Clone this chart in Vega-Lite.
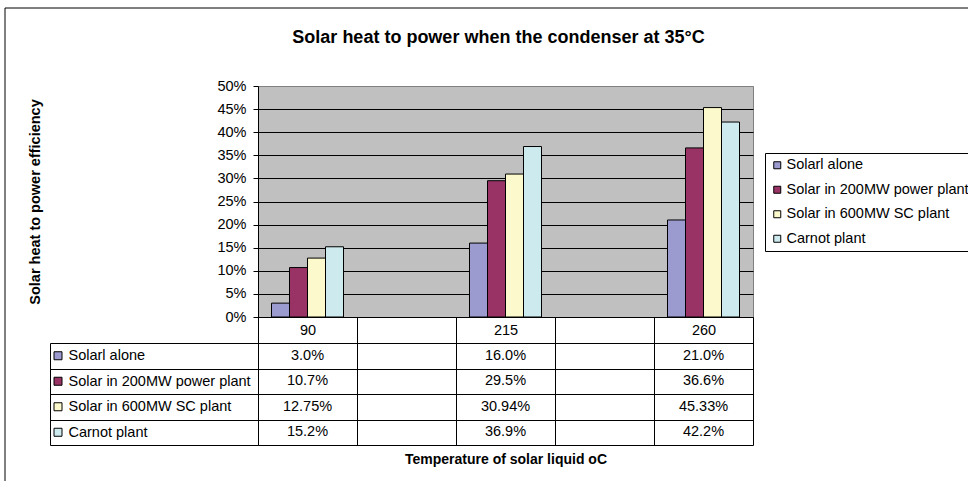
{
  "$schema": "https://vega.github.io/schema/vega-lite/v6.json",
  "width": 495,
  "height": 231,
  "autosize": {"type": "none"},
  "padding": {"left": 258, "top": 86, "right": 215, "bottom": 164},
  "background": "white",
  "title": {
    "text": "Solar heat to power when the condenser at 35°C",
    "font": "Liberation Sans",
    "fontSize": 18,
    "fontWeight": "bold",
    "color": "black",
    "anchor": "middle",
    "frame": "group",
    "baseline": "middle",
    "offset": -48,
    "dx": -7
  },
  "config": {
    "font": "Liberation Sans",
    "view": {"fill": "#C0C0C0", "stroke": "#808080", "strokeWidth": 1},
    "axis": {
      "labelFont": "Liberation Sans",
      "labelFontSize": 14.5,
      "labelColor": "black",
      "titleFont": "Liberation Sans",
      "titleFontSize": 14.5,
      "titleFontWeight": "bold",
      "titleColor": "black",
      "domainColor": "black",
      "tickColor": "black",
      "gridColor": "black",
      "labelOverlap": false
    }
  },
  "datasets": {
    "values": [
      {"cat": "90", "series": "Solarl alone", "value": 0.03, "label": "3.0%"},
      {"cat": "90", "series": "Solar in 200MW power plant", "value": 0.107, "label": "10.7%"},
      {"cat": "90", "series": "Solar in 600MW SC plant", "value": 0.1275, "label": "12.75%"},
      {"cat": "90", "series": "Carnot plant", "value": 0.152, "label": "15.2%"},
      {"cat": "215", "series": "Solarl alone", "value": 0.16, "label": "16.0%"},
      {"cat": "215", "series": "Solar in 200MW power plant", "value": 0.295, "label": "29.5%"},
      {"cat": "215", "series": "Solar in 600MW SC plant", "value": 0.3094, "label": "30.94%"},
      {"cat": "215", "series": "Carnot plant", "value": 0.369, "label": "36.9%"},
      {"cat": "260", "series": "Solarl alone", "value": 0.21, "label": "21.0%"},
      {"cat": "260", "series": "Solar in 200MW power plant", "value": 0.366, "label": "36.6%"},
      {"cat": "260", "series": "Solar in 600MW SC plant", "value": 0.4533, "label": "45.33%"},
      {"cat": "260", "series": "Carnot plant", "value": 0.422, "label": "42.2%"}
    ],
    "series": [
      {"series": "Solarl alone"},
      {"series": "Solar in 200MW power plant"},
      {"series": "Solar in 600MW SC plant"},
      {"series": "Carnot plant"}
    ]
  },
  "resolve": {"scale": {"x": "independent", "y": "independent"}},
  "layer": [
    {
      "data": {"values": [{}]},
      "mark": {"type": "rect", "fill": "transparent", "stroke": "black", "strokeWidth": 1},
      "encoding": {
        "x": {"datum": 0, "type": "quantitative", "scale": {"domain": [0, 1], "range": [-253, 715], "nice": false, "zero": false}, "axis": null},
        "x2": {"datum": 1},
        "y": {"datum": 0, "type": "quantitative", "scale": {"domain": [0, 1], "range": [-78, 400], "nice": false, "zero": false}, "axis": null},
        "y2": {"datum": 1}
      }
    },
    {
      "data": {"name": "values"},
      "mark": {"type": "bar", "stroke": "black", "strokeWidth": 1},
      "encoding": {
        "x": {
          "field": "cat", "type": "nominal",
          "scale": {"domain": ["90", "g1", "215", "g2", "260"], "range": [0, 495], "paddingInner": 0, "paddingOuter": 0},
          "axis": {
            "orient": "bottom", "offset": 0,
            "title": "Temperature of solar liquid oC",
            "titleFontSize": 14,
            "titleY": 142,
            "titleBaseline": "middle",
            "labelExpr": "datum.value == 'g1' || datum.value == 'g2' ? '' : datum.value",
            "labelAngle": 0,
            "labelPadding": -122,
            "labelBaseline": "top",
            "tickBand": "extent",
            "tickSize": 128,
            "grid": false
          }
        },
        "xOffset": {
          "field": "series", "type": "nominal",
          "scale": {"domain": ["Solarl alone", "Solar in 200MW power plant", "Solar in 600MW SC plant", "Carnot plant"], "paddingInner": 0, "paddingOuter": 0.75}
        },
        "y": {
          "field": "value", "type": "quantitative",
          "scale": {"domain": [0, 0.5], "range": [231, 0], "nice": false},
          "axis": {
            "orient": "left", "offset": 0,
            "values": [0, 0.05, 0.1, 0.15, 0.2, 0.25, 0.3, 0.35, 0.4, 0.45, 0.5],
            "format": ".0%",
            "tickSize": 5,
            "labelPadding": 7,
            "grid": true,
            "gridColor": {"condition": {"test": "datum.value >= 0.499", "value": "#808080"}, "value": "black"},
            "title": "Solar heat to power efficiency",
            "titleX": -216
          }
        },
        "fill": {
          "field": "series", "type": "nominal",
          "scale": {"domain": ["Solarl alone", "Solar in 200MW power plant", "Solar in 600MW SC plant", "Carnot plant"], "range": ["#9B9BD0", "#993366", "#FCFACC", "#CDEBEE"]},
          "legend": {
            "orient": "none", "legendX": 507, "legendY": 67,
            "title": null, "direction": "vertical",
            "strokeColor": "black", "fillColor": "white", "padding": 5,
            "symbolType": "square", "symbolSize": 49,
            "symbolStrokeColor": "black", "symbolStrokeWidth": 1, "symbolOpacity": 1,
            "labelFont": "Liberation Sans", "labelFontSize": 14.5, "labelColor": "black",
            "labelLimit": 300, "rowPadding": 9.5, "labelOffset": 2
          }
        }
      }
    },
    {
      "data": {"name": "values"},
      "mark": {"type": "text", "font": "Liberation Sans", "fontSize": 14.5, "fill": "black", "align": "center", "baseline": "middle"},
      "encoding": {
        "x": {
          "field": "cat", "type": "nominal",
          "scale": {"domain": ["90", "g1", "215", "g2", "260"], "range": [0, 495], "paddingInner": 0, "paddingOuter": 0},
          "axis": null
        },
        "y": {
          "field": "series", "type": "nominal",
          "scale": {"domain": ["Solarl alone", "Solar in 200MW power plant", "Solar in 600MW SC plant", "Carnot plant"], "range": [257, 359], "paddingInner": 0, "paddingOuter": 0},
          "axis": {
            "orient": "left", "offset": 0, "title": null,
            "tickBand": "extent", "tickSize": 208,
            "grid": true, "gridColor": "black",
            "labelAlign": "left", "labelPadding": -18, "labelLimit": 300, "labelBaseline": "middle"
          }
        },
        "text": {"field": "label"}
      }
    },
    {
      "data": {"name": "series"},
      "mark": {"type": "point", "shape": "square", "filled": true, "size": 64, "stroke": "black", "strokeWidth": 1, "opacity": 1},
      "encoding": {
        "x": {
          "datum": "label column", "type": "nominal", "bandPosition": 0.0385,
          "scale": {"type": "band", "domain": ["label column"], "range": [-208, 0], "paddingInner": 0, "paddingOuter": 0},
          "axis": null
        },
        "y": {
          "field": "series", "type": "nominal",
          "scale": {"domain": ["Solarl alone", "Solar in 200MW power plant", "Solar in 600MW SC plant", "Carnot plant"], "range": [257, 359], "paddingInner": 0, "paddingOuter": 0},
          "axis": {"orient": "left", "offset": 208, "labels": false, "ticks": false, "grid": false, "domain": true, "title": null}
        },
        "fill": {"field": "series", "type": "nominal"}
      }
    }
  ]
}
